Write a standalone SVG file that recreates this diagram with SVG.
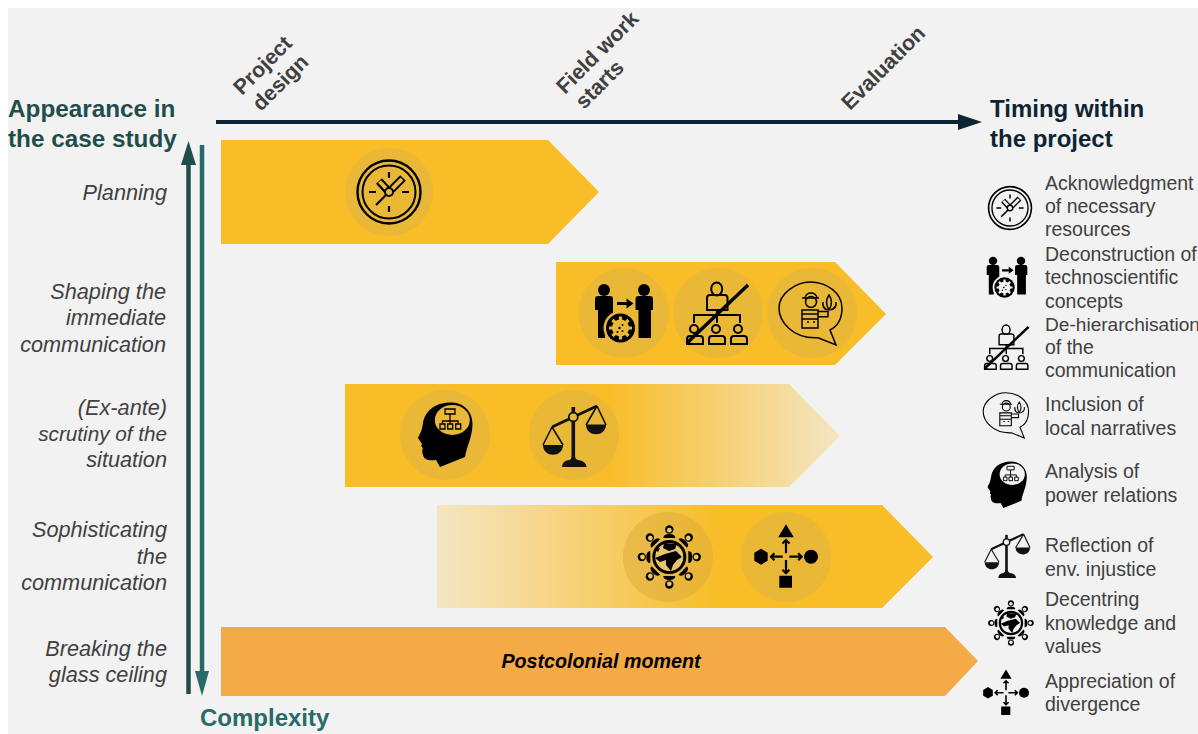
<svg xmlns="http://www.w3.org/2000/svg" width="1198" height="734" viewBox="0 0 1198 734">
<style>
text{font-family:"Liberation Sans",Arial,sans-serif;fill:#404040}
.h{font-weight:700;font-size:24.300px;fill:#1f4e4a}
.hk{font-weight:700;font-size:24px;fill:#0e2433}
.r{font-style:italic;text-anchor:end;font-size:21.7px}
.t{font-weight:700;font-size:21.400px}
.l{font-size:19.500px}
.chip{fill:#e9b837}
.s{fill:none;stroke:#000;stroke-width:2}
.k{fill:#000}
.o{fill:var(--h)}
.ho{fill:none;stroke:var(--h)}
#legend{--h:#f2f2f2}
.onchip{--h:#e9b837}
</style>
<defs>
<linearGradient id="fadeOut" x1="0" x2="1" y1="0" y2="0"><stop offset="0.53" stop-color="#f8bd27"/><stop offset="1" stop-color="#f4e6c4"/></linearGradient>
<linearGradient id="fadeIn" x1="0" x2="1" y1="0" y2="0"><stop offset="0" stop-color="#f4e6c4"/><stop offset="0.57" stop-color="#f8bd27"/></linearGradient>
<g id="clock">
<circle r="31.500" fill="none" stroke="#000" stroke-width="2.400"/><circle r="26.500" fill="none" stroke="#000" stroke-width="2"/>
<path d="M0-20V-14M0 14V20M-20 0H-13M13 0H20" stroke="#000" stroke-width="2.200" fill="none"/>
<path d="M0 0L-10-11M0 0L14-14" stroke="#000" stroke-width="8" fill="none"/>
<path d="M-2-2.500L-9.500-10.500M2-2L13-13" class="ho" stroke-width="4"/>
<path d="M-2 2L-13 13" stroke="#000" stroke-width="2.200"/>
<circle r="4" class="o" stroke="#000" stroke-width="2"/>
</g>
<g id="people">
<circle cx="-20" cy="-23" r="6" class="k"/><circle cx="20" cy="-23" r="6" class="k"/>
<path class="k" d="M-29-14Q-29-17-26-17H-14Q-11-17-11-14V2L-17 6L-19 25H-26V-3H-29Z"/>
<path class="k" d="M11.500-14Q11.500-17 14.500-17H26Q29-17 29-14V-3H27V25H14.500V-3H11.500Z"/>
<path class="k" d="M-7-11H2.500V-14.500L9.500-9.500L2.500-4.500V-8H-7Z"/>
<circle cx="-3.500" cy="15" r="17" class="o"/>
<circle cx="-3.500" cy="15" r="14.500" class="k"/>
<g transform="translate(-3.500,15)"><circle r="8.500" class="o"/><path d="M0-11.500V11.500M-11.500 0H11.500M-8-8L8 8M8-8L-8 8" class="ho" stroke-width="3.200"/>
<circle r="1.200" cx="-1" class="k"/><circle r="1" cx="2" cy="-3" class="k"/><circle r="1" cx="2" cy="3" class="k"/><circle r="1" cx="-3" cy="4" class="k"/></g>
</g>
<g id="hier">
<g class="s"><ellipse cx="-1.300" cy="-24" rx="5.500" ry="6.500"/><path d="M-11-3V-15Q-11-18-8-18H6.500Q9.500-18 9.500-15V-3Z"/><path d="M-1 -3V10M-24 10V2H22V10"/>
<circle cx="-24" cy="16" r="4"/><circle cx="-2" cy="16" r="4"/><circle cx="20" cy="16" r="4"/>
<path d="M-31 31V26Q-31 23-28 23H-18Q-15 23-15 26V31ZM-9 31V26Q-9 23-6 23H4Q7 23 7 26V31ZM13 31V26Q13 23 16 23H26Q29 23 29 26V31Z"/></g>
<path d="M-30 29L30-28" stroke="#000" stroke-width="3.400"/>
<path d="M-32 31V25L-26 31Z" class="k"/>
</g>
<g id="speech">
<path class="s" style="stroke-width:1.500" d="M6 24.700C-20 26-33 8-33-5C-33-20-15-31-2-31C15-31 30-20 30-5C30 5 26 13 18 17L24 32L6 24.700"/>
<g class="s" style="stroke-width:1.500"><circle cx="-1" cy="-11" r="5.500"/><path d="M-10-15H7M-7-15Q-6-20-1-20Q4-20 5-15M-10-3V15H6V-3ZM-10 1H6M-10 6H6M-5 9H-3M1 9H3M6-1.500H16V3.700H6"/><path d="M17-3Q12-11 17-18Q22-11 17-3ZM15.500-3Q10-5 11-11M18.500-3Q25-5 24-11"/></g>
</g>
<g id="head">
<path class="k" d="M-22-12C-20-24-10-33 7-32.500C20-32 28-22 27.500-10C27 3 22 10 20 22L-5 32L-9 25C-15 26-21 25-22 20C-23 17-23 15-22 13C-24 12-24 10-23 9L-27 3C-26 0-23-3-22-12Z"/>
<ellipse cx="7.300" cy="-15" rx="17.500" ry="15" class="o"/>
<path fill="none" stroke="#000" stroke-width="1.300" d="M0-26H10V-21H0ZM-5-11H0V-6H-5ZM2.700-11H7.700V-6H2.700ZM10.700-11H15.700V-6H10.700ZM5-21V-14M-2.500-11V-14H13V-11M5-14V-11"/>
</g>
<g id="scale">
<path fill="none" stroke="#111" stroke-width="1.600" d="M-22-8L-31 10M-22-8L-11 10M23-29L12-10M23-29L32-10"/>
<path stroke="#111" stroke-width="3" d="M-22-8L23-29" fill="none"/>
<path d="M-.7-28V24" stroke="#111" stroke-width="3.600"/>
<circle cx="-.7" cy="-18" r="4.500" class="o" stroke="#111" stroke-width="1.800"/>
<path fill="#111" d="M-31 10H-11C-11 23-31 23-31 10ZM12-10.500H32C32 2.500 12 2.500 12-10.500ZM-12 32Q-12 26-5 25Q-2 24-2 21H1Q1 24 4 25Q12 26 12.700 32Z"/>
</g>
<g id="person"><circle cx="1.300" cy="-27.500" r="4.200" class="k"/><circle cx="1.300" cy="-26.800" r="2.400" class="o"/><path class="k" d="M-4.700-19Q-4.700-23 1.300-23Q7.300-23 7.300-19Z"/></g>
<g id="globe">
<circle cx="1.300" r="15.500" class="o" stroke="#000" stroke-width="3"/>
<path class="k" d="M-4-14L9-13L7-8L1-6L-5-9ZM-13 1L-3-3L8-6L14 0L9 3L5 8L3 14L-2 8L-2 3L-8 5ZM-13-8L-8-9L-10-5Z"/>
<use href="#person"/><use href="#person" transform="rotate(45 1.300 0)"/><use href="#person" transform="rotate(90 1.300 0)"/><use href="#person" transform="rotate(135 1.300 0)"/><use href="#person" transform="rotate(180 1.300 0)"/><use href="#person" transform="rotate(225 1.300 0)"/><use href="#person" transform="rotate(270 1.300 0)"/><use href="#person" transform="rotate(315 1.300 0)"/>
</g>
<g id="diverge">
<path class="k" d="M0-32.700L7.800-19.700H-7.800ZM-6.700 18.700H6V30.700H-6.700ZM-25-8.300L-18.300-4.300V3.700L-25 7.700L-31.700 3.700V-4.300Z"/>
<circle cx="25" cy="-.3" r="7" class="k"/>
<path fill="none" stroke="#000" stroke-width="2.200" d="M0-3.700V-17M-3.500-13.500L0-17L3.500-13.500M0 3V16.300M-3.500 12.800L0 16.300L3.500 12.800M-3.300-.3H-15M-11.500-3.800L-15-.3L-11.500 3.200M3.300-.3H15.700M12.200-3.800L15.700-.3L12.200 3.200"/>
</g>
</defs>
<rect width="1198" height="734" fill="#fff"/>
<rect x="8" y="8" width="1190" height="726" fill="#f2f2f2"/>
<g id="connectors">
<path d="M216 122H970" stroke="#0e2433" stroke-width="4" fill="none"/>
<path d="M982 122L958 114V130Z" fill="#0e2433"/>
<path d="M188.500 694V160" stroke="#1f4e4a" stroke-width="4.500"/>
<path d="M188.500 141L181 165H196Z" fill="#1f4e4a"/>
<path d="M202 145V672" stroke="#286b66" stroke-width="4.500"/>
<path d="M202 696L195 671H209Z" fill="#286b66"/>
</g>
<g id="bar-planning" class="onchip"><path d="M221 140H548L599 192L548 244H221Z" fill="#f8bd27"/><circle class="chip" cx="389" cy="192" r="44"/><use href="#clock" x="389" y="192"/></g>
<g id="bar-shaping" class="onchip"><path d="M556 262H835L886 314L835 365H556Z" fill="#f8bd27"/><circle class="chip" cx="624" cy="313" r="45"/><circle class="chip" cx="718" cy="313" r="45"/><circle class="chip" cx="812" cy="313" r="45"/><use href="#people" x="624" y="313"/><use href="#hier" x="718" y="313"/><use href="#speech" x="812" y="313"/></g>
<g id="bar-scrutiny" class="onchip"><path d="M345 384H789L840 436L789 487H345Z" fill="url(#fadeOut)"/><circle class="chip" cx="445" cy="435" r="45"/><circle class="chip" cx="574" cy="435" r="45"/><use href="#head" x="445" y="435"/><use href="#scale" x="574" y="435"/></g>
<g id="bar-sophisticating" class="onchip"><path d="M437 505H882L933 557L882 608H437Z" fill="url(#fadeIn)"/><circle cx="668" cy="557" r="45" fill="#d8a83a" fill-opacity=".45"/><circle class="chip" cx="786" cy="557" r="45"/><use href="#globe" x="668" y="557" style="--h:#e8c56a"/><use href="#diverge" x="786" y="557"/></g>
<g id="bar-breaking"><path d="M221 627H945L978 661L945 696H221Z" fill="#f5aa48"/><text x="601" y="668" text-anchor="middle" style="font-weight:700;font-style:italic;font-size:19.700px;fill:#000">Postcolonial moment</text></g>
<g id="axis-labels">
<text class="h" x="8" y="117">Appearance in</text><text class="h" x="8" y="147">the case study</text>
<text class="hk" x="990" y="117">Timing within</text><text class="hk" x="990" y="147">the project</text>
<text class="h" x="200" y="726" style="fill:#286b66;font-size:24px">Complexity</text>
<text class="t" transform="translate(242,96) rotate(-45)">Project</text><text class="t" transform="translate(261,112) rotate(-45)">design</text>
<text class="t" transform="translate(565,95) rotate(-45)">Field work</text><text class="t" transform="translate(584,110) rotate(-45)">starts</text>
<text class="t" transform="translate(850,111) rotate(-45)">Evaluation</text>
</g>
<g id="row-labels">
<text class="r" x="167" y="200">Planning</text>
<text class="r" x="166" y="299">Shaping the</text><text class="r" x="166" y="325">immediate</text><text class="r" x="166" y="352">communication</text>
<text class="r" x="167" y="415">(Ex-ante)</text><text class="r" x="167" y="441" style="font-size:20.700px">scrutiny of the</text><text class="r" x="167" y="467">situation</text>
<text class="r" x="167" y="537">Sophisticating</text><text class="r" x="167" y="564">the</text><text class="r" x="167" y="590">communication</text>
<text class="r" x="167" y="656">Breaking the</text><text class="r" x="167" y="682">glass ceiling</text>
</g>
<g id="legend">
<g id="legend-clock"><use href="#clock" transform="translate(1010,208) scale(.68)"/><text class="l" x="1045" y="190">Acknowledgment</text><text class="l" x="1045" y="213">of necessary</text><text class="l" x="1045" y="236">resources</text></g>
<g id="legend-people"><use href="#people" transform="translate(1007,277) scale(.7)"/><text class="l" x="1045" y="261">Deconstruction of</text><text class="l" x="1045" y="284">technoscientific</text><text class="l" x="1045" y="308">concepts</text></g>
<g id="legend-hier"><use href="#hier" transform="translate(1007,347) scale(.72)"/><text class="l" x="1045" y="331" style="font-size:19.100px">De-hierarchisation</text><text class="l" x="1045" y="354">of the</text><text class="l" x="1045" y="377">communication</text></g>
<g id="legend-speech"><use href="#speech" transform="translate(1007,415) scale(.72)"/><text class="l" x="1045" y="411">Inclusion of</text><text class="l" x="1045" y="435">local narratives</text></g>
<g id="legend-head"><use href="#head" transform="translate(1007,485) scale(.72)"/><text class="l" x="1045" y="478">Analysis of</text><text class="l" x="1045" y="502">power relations</text></g>
<g id="legend-scale"><use href="#scale" transform="translate(1007,555) scale(.72)"/><text class="l" x="1045" y="552">Reflection of</text><text class="l" x="1045" y="576">env. injustice</text></g>
<g id="legend-globe"><use href="#globe" transform="translate(1010,623) scale(.72)"/><text class="l" x="1045" y="606">Decentring</text><text class="l" x="1045" y="630">knowledge and</text><text class="l" x="1045" y="653">values</text></g>
<g id="legend-diverge"><use href="#diverge" transform="translate(1006,693) scale(.72)"/><text class="l" x="1045" y="688">Appreciation of</text><text class="l" x="1045" y="711">divergence</text></g>
</g>
</svg>
